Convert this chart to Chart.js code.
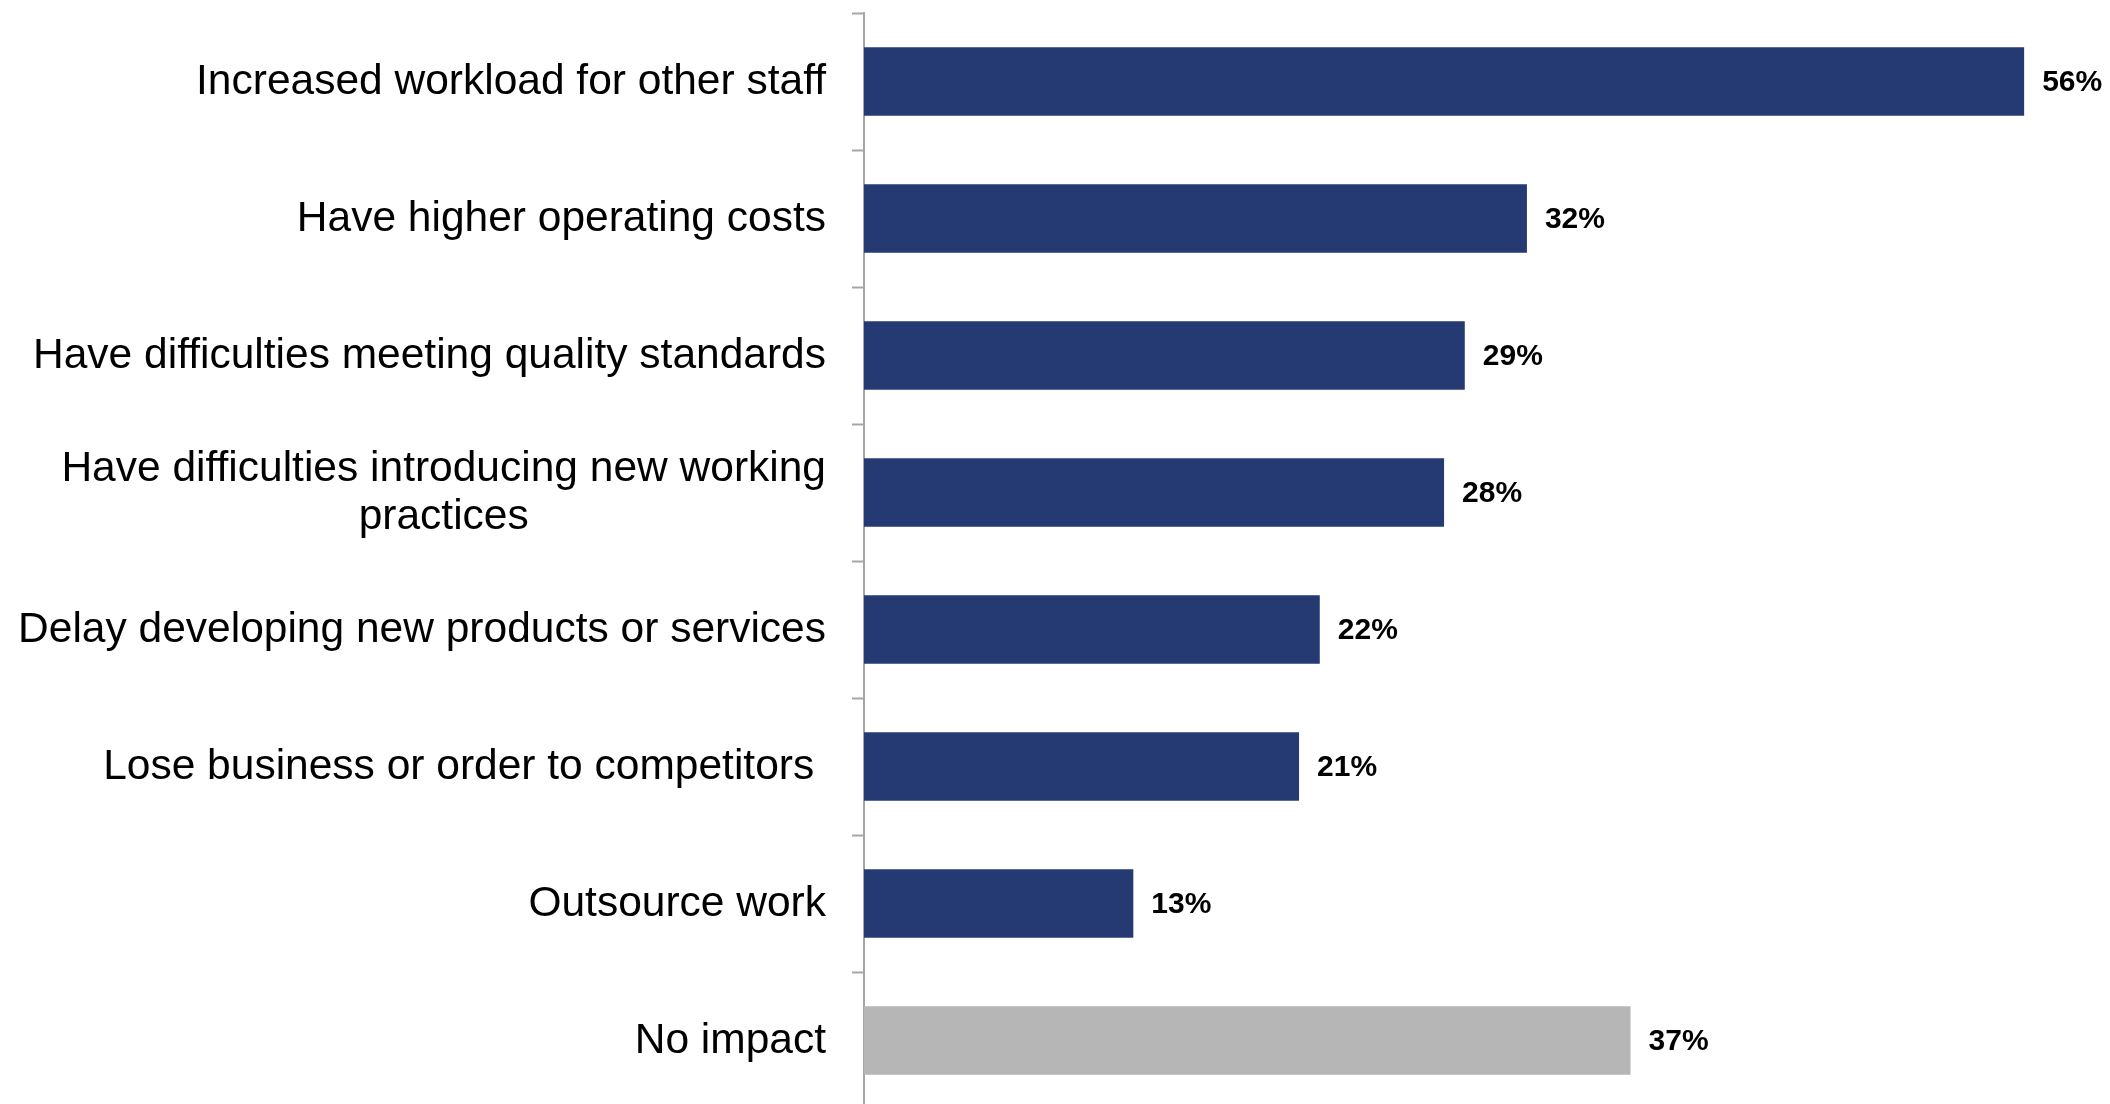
<!DOCTYPE html>
<html>
<head>
<meta charset="utf-8">
<script src="https://cdn.jsdelivr.net/npm/chart.js@4/dist/chart.umd.min.js"></script>
<style>
  html, body { margin: 0; padding: 0; background: #ffffff; overflow: hidden; }
  #wrap { width: 2110px; height: 1110px; position: relative; }
</style>
</head>
<body>
<div id="wrap"><canvas id="chart"></canvas></div>
<script>
// Impact of skills gaps on the business (% of establishments)
const categories = [
  'Increased workload for other staff',
  'Have higher operating costs',
  'Have difficulties meeting quality standards',
  ['Have difficulties introducing new working', 'practices'],
  'Delay developing new products or services',
  'Lose business or order to competitors ',
  'Outsource work',
  'No impact'
];
const values = [56, 32, 29, 28, 22, 21, 13, 37];
const barColors = ['#253A73', '#253A73', '#253A73', '#253A73', '#253A73', '#253A73', '#253A73', '#B6B6B6'];

const FONT = '"Liberation Sans", Arial, Helvetica, sans-serif';
const LABEL_SIZE = 42.5;
const LABEL_LINE = 48.5;
const LABEL_GAP = 38; // distance from axis line to the right edge of category text

// Category names: right-aligned block, lines of a wrapped name centred within it
const categoryLabels = {
  id: 'categoryLabels',
  afterDraw(chart) {
    const ctx = chart.ctx;
    const yScale = chart.scales.y;
    const right = chart.chartArea.left - LABEL_GAP;
    ctx.save();
    ctx.font = LABEL_SIZE + 'px ' + FONT;
    ctx.fillStyle = '#000000';
    ctx.textAlign = 'center';
    ctx.textBaseline = 'middle';
    categories.forEach((label, i) => {
      const lines = Array.isArray(label) ? label : [label];
      const blockW = Math.max(...lines.map(l => ctx.measureText(l).width));
      const cx = right - blockW / 2;
      const cy = yScale.getPixelForValue(i);
      const y0 = cy - (lines.length - 1) * LABEL_LINE / 2;
      lines.forEach((line, j) => {
        const w = ctx.measureText(line).width;
        // centre the visible text; trailing blanks still count toward the block width
        ctx.textAlign = 'left';
        ctx.fillText(line, cx - w / 2, y0 + j * LABEL_LINE + 1);
      });
    });
    ctx.restore();
  }
};

// Percentage labels printed just past the end of each bar
const valueLabels = {
  id: 'valueLabels',
  afterDatasetsDraw(chart) {
    const ctx = chart.ctx;
    const meta = chart.getDatasetMeta(0);
    ctx.save();
    ctx.font = 'bold 30px ' + FONT;
    ctx.fillStyle = '#000000';
    ctx.textAlign = 'left';
    ctx.textBaseline = 'middle';
    meta.data.forEach((bar, i) => {
      ctx.fillText(values[i] + '%', bar.x + 18, bar.y + 1);
    });
    ctx.restore();
  }
};

new Chart(document.getElementById('chart'), {
  type: 'bar',
  data: {
    labels: categories,
    datasets: [{
      data: values,
      backgroundColor: barColors,
      borderWidth: 0,
      barPercentage: 0.5,
      categoryPercentage: 1.0
    }]
  },
  options: {
    indexAxis: 'y',
    responsive: true,
    maintainAspectRatio: false,
    animation: false,
    layout: { padding: { top: 13, right: 3, bottom: 1, left: 0 } },
    plugins: {
      legend: { display: false },
      tooltip: { enabled: false }
    },
    scales: {
      x: {
        display: false,
        min: 0,
        max: 60
      },
      y: {
        afterFit(scale) {
          scale.width = 864;
          scale.paddingTop = 0;
          scale.paddingBottom = 0;
        },
        border: { display: true, color: '#A6A6A6', width: 2 },
        grid: {
          display: true,
          offset: true,
          drawOnChartArea: false,
          drawTicks: true,
          tickLength: 12,
          tickWidth: 2,
          tickColor: '#A6A6A6'
        },
        ticks: {
          display: false,
          autoSkip: false
        }
      }
    }
  },
  plugins: [valueLabels, categoryLabels]
});
</script>
</body>
</html>
